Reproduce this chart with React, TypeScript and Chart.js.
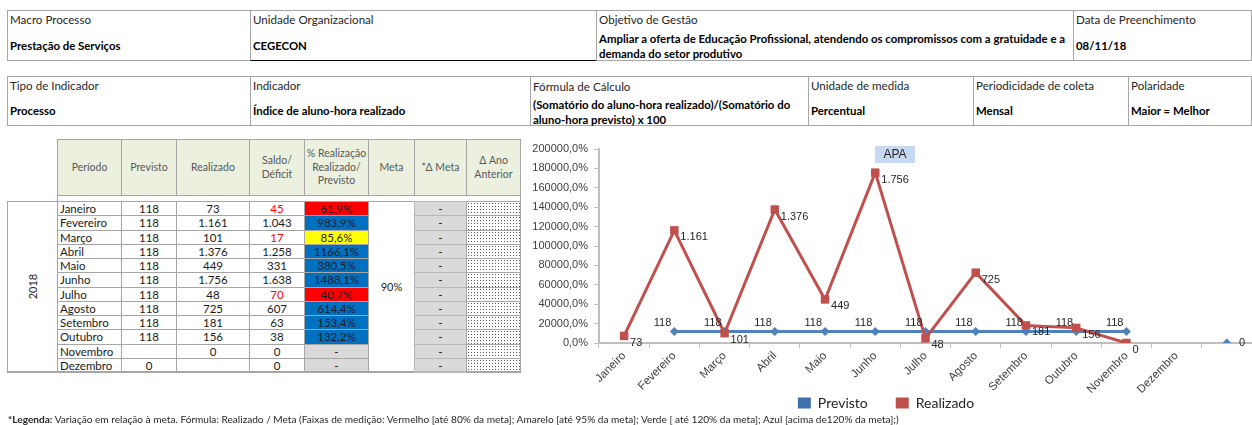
import React, { useEffect, useRef } from 'react';
import { Chart, registerables } from 'chart.js';

Chart.register(...registerables);

// ---------- DATA ----------
const mesesTabela = ['Janeiro', 'Fevereiro', 'Março', 'Abril', 'Maio', 'Junho', 'Julho', 'Agosto', 'Setembro', 'Outubro', 'Novembro', 'Dezembro'];
const previstoTabela = ['118', '118', '118', '118', '118', '118', '118', '118', '118', '118', '', '0'];
const realizadoTabela = ['73', '1.161', '101', '1.376', '449', '1.756', '48', '725', '181', '156', '0', ''];
const saldoTabela = ['45', '1.043', '17', '1.258', '331', '1.638', '70', '607', '63', '38', '0', '0'];
const saldoDeficit = [true, false, true, false, false, false, true, false, false, false, false, false];
const realizacaoTabela = ['61,9%', '983,9%', '85,6%', '1166,1%', '380,5%', '1488,1%', '40,7%', '614,4%', '153,4%', '132,2%', '-', '-'];
const faixaTabela = ['vermelho', 'azul', 'amarelo', 'azul', 'azul', 'azul', 'vermelho', 'azul', 'azul', 'azul', 'sem', 'sem'];
const metaTexto = '90%';
const anoTexto = '2018';

const categoriasGrafico = ['Janeiro', 'Fevereiro', 'Março', 'Abril', 'Maio', 'Junho', 'Julho', 'Agosto', 'Setembro', 'Outubro', 'Novembro', 'Dezembro', ''];
const previstoGrafico = [null, 118, 118, 118, 118, 118, 118, 118, 118, 118, 118, null, 0];
const realizadoGrafico = [73, 1161, 101, 1376, 449, 1756, 48, 725, 181, 156, 0, null, null];
const eixoYMax = 2000;
const eixoYPasso = 200;
const tituloGrafico = 'APA';

// ---------- STYLE ----------
const FONT_T = 'Lato, "Liberation Sans", Arial, sans-serif';
const FONT_C = '"Liberation Sans", Arial, sans-serif';
const BORDA = '#a6a6a6';
const CORES_FAIXA: Record<string, string> = {
  vermelho: '#ff0000',
  azul: '#0070c0',
  amarelo: '#ffff00',
  sem: '#d9d9d9',
};

const fmtMil = (v: number) => String(v).replace(/\B(?=(\d{3})+(?!\d))/g, '.');
const fmtPct = (v: number) => (v * 100).toFixed(1).replace('.', ',') + '%';

function Abs(props: { x: number; y: number; w: number; h: number; style?: React.CSSProperties; children?: React.ReactNode }) {
  const { x, y, w, h, style, children } = props;
  return (
    <div style={{ position: 'absolute', left: x, top: y, width: w, height: h, boxSizing: 'border-box', ...style }}>
      {children}
    </div>
  );
}

function InfoCell(props: {
  x1: number; x2: number; y1: number; y2: number; label: string; value: string[];
  labelTop: number; valueTop: number; extra?: React.CSSProperties;
}) {
  const { x1, x2, y1, y2, label, value, labelTop, valueTop, extra } = props;
  return (
    <Abs x={x1} y={y1} w={x2 - x1 + 1} h={y2 - y1 + 1} style={{ border: `1px solid ${BORDA}`, ...extra }}>
      <div style={{ position: 'absolute', left: 2, top: labelTop, fontSize: 11.6, lineHeight: '14px', color: '#262626', whiteSpace: 'nowrap' }}>{label}</div>
      <div style={{ position: 'absolute', left: 2, top: valueTop, fontSize: 11.4, fontWeight: 'bold', lineHeight: '15px', color: '#000', whiteSpace: 'nowrap' }}>
        {value.map((l, i) => <div key={i}>{l}</div>)}
      </div>
    </Abs>
  );
}

const rotulos = {
  id: 'rotulos',
  afterDatasetsDraw(chart: any) {
    const ctx = chart.ctx;
    ctx.save();
    ctx.font = `11px ${FONT_C}`;
    ctx.fillStyle = '#262626';
    ctx.textBaseline = 'middle';
    chart.data.datasets.forEach((ds: any, di: number) => {
      const meta = chart.getDatasetMeta(di);
      meta.data.forEach((pt: any, i: number) => {
        const v = ds.data[i];
        if (v === null || v === undefined) return;
        const txt = fmtMil(v);
        if (ds.label === 'Realizado') {
          ctx.textAlign = 'left';
          ctx.fillText(txt, pt.x + 6, pt.y + 7);
        } else if (v === 0) {
          ctx.textAlign = 'left';
          ctx.fillText(txt, pt.x + 12, pt.y);
        } else {
          ctx.textAlign = 'right';
          ctx.fillText(txt, pt.x - 3, pt.y - 9);
        }
      });
    });
    ctx.restore();
  },
};

const CANVAS_TOP = 136;

const tituloApa = {
  id: 'tituloApa',
  afterDraw(chart: any) {
    const ctx = chart.ctx;
    ctx.save();
    const cx = chart.width / 2 + 9;
    const top = 146 - CANVAS_TOP;
    ctx.fillStyle = '#c6d9f1';
    ctx.fillRect(cx - 20, top, 40, 17);
    ctx.fillStyle = '#1f1f1f';
    ctx.font = `12px ${FONT_C}`;
    ctx.textAlign = 'center';
    ctx.textBaseline = 'middle';
    ctx.fillText(tituloGrafico, cx, top + 9);
    ctx.restore();
  },
};

function Grafico() {
  const ref = useRef<HTMLCanvasElement | null>(null);
  useEffect(() => {
    if (!ref.current) return;
    const chart = new Chart(ref.current, {
      type: 'line',
      data: {
        labels: categoriasGrafico,
        datasets: [
          {
            label: 'Previsto',
            data: previstoGrafico,
            borderColor: '#4f81bd',
            backgroundColor: '#3e6fae',
            borderWidth: 3,
            pointStyle: 'rectRot',
            pointRadius: 4.5,
            pointBackgroundColor: '#4f81bd',
            pointBorderColor: '#4f81bd',
            pointBorderWidth: 0,
            tension: 0,
            spanGaps: false,
            order: 2,
          } as any,
          {
            label: 'Realizado',
            data: realizadoGrafico,
            borderColor: '#c0504d',
            backgroundColor: '#c0504d',
            borderWidth: 3,
            pointStyle: 'rect',
            pointRadius: 6,
            pointBackgroundColor: '#c0504d',
            pointBorderColor: '#c0504d',
            pointBorderWidth: 0,
            tension: 0,
            spanGaps: false,
            order: 1,
          } as any,
        ],
      },
      options: {
        responsive: false,
        animation: false,
        devicePixelRatio: 1,
        layout: { autoPadding: false, padding: { top: 13, left: 0, right: 0, bottom: 0 } },
        plugins: {
          legend: {
            position: 'bottom',
            labels: {
              boxWidth: 13,
              boxHeight: 11,
              padding: 0,
              color: '#262626',
              font: { family: FONT_T, size: 14 },
              sort: (a: any, b: any) => a.datasetIndex - b.datasetIndex,
              generateLabels: (c: any) =>
                (Chart.defaults.plugins.legend.labels.generateLabels as any)(c).map((l: any) => ({
                  ...l,
                  lineWidth: 0,
                  text: l.datasetIndex === 0 ? l.text + '\u2002\u2002\u2002\u2002' : l.text,
                })),
            },
          },
          tooltip: { enabled: false },
        },
        scales: {
          x: {
            offset: true,
            grid: { display: true, drawOnChartArea: false, drawTicks: true, tickLength: 5, color: '#bfbfbf', offset: true },
            border: { display: true, color: '#bfbfbf', width: 2 },
            ticks: { minRotation: 45, maxRotation: 45, autoSkip: false, color: '#404040', font: { family: FONT_C, size: 11.5 }, padding: 1 },
            afterFit: (s: any) => { s.height = 53; s.paddingLeft = 0; s.paddingRight = 0; },
          },
          y: {
            min: 0,
            max: eixoYMax,
            ticks: { stepSize: eixoYPasso, callback: (v: any) => fmtPct(Number(v)), color: '#404040', font: { family: FONT_C, size: 11 }, padding: 6 },
            grid: { display: true, drawOnChartArea: false, drawTicks: true, tickLength: 5, color: '#bfbfbf' },
            border: { display: true, color: '#bfbfbf', width: 2 },
            afterFit: (s: any) => { s.width = 79; },
          },
        },
      } as any,
      plugins: [rotulos, tituloApa],
    });
    return () => chart.destroy();
  }, []);
  return (
    <canvas ref={ref} width={732} height={284} style={{ position: 'absolute', left: 520, top: CANVAS_TOP, width: 732, height: 284 }} />
  );
}

const colsTabela = [57, 121, 176, 249, 304, 368, 414, 466, 520];
const cabecalhos = [['Período'], ['Previsto'], ['Realizado'], ['Saldo/', 'Déficit'], ['% Realização', 'Realizado/', 'Previsto'], ['Meta'], ['*Δ Meta'], ['Δ Ano', 'Anterior']];
const ROW0 = 201;
const ROWH = 14.25;

function TabelaDados() {
  const cells: React.ReactNode[] = [];
  cabecalhos.forEach((linhas, c) => {
    const x1 = colsTabela[c];
    const x2 = colsTabela[c + 1];
    cells.push(
      <Abs key={'h' + c} x={x1} y={139} w={x2 - x1 + 1} h={57}
        style={{ background: '#ebf1de', border: `1px solid ${BORDA}`, display: 'flex', flexDirection: 'column', alignItems: 'center', justifyContent: 'center', fontSize: 10.5, lineHeight: '13.5px', color: '#595959', textAlign: 'center' }}>
        {linhas.map((l, i) => <div key={i} style={{ whiteSpace: 'nowrap' }}>{l}</div>)}
      </Abs>
    );
  });
  cells.push(<Abs key="gap" x={57} y={195} w={464} h={7} style={{ borderLeft: `1px solid ${BORDA}`, borderRight: `1px solid ${BORDA}` }} />);
  cells.push(
    <Abs key="ano" x={7} y={ROW0} w={51} h={372 - ROW0 + 1}
      style={{ border: `1px solid ${BORDA}`, borderBottomWidth: 2, display: 'flex', alignItems: 'center', justifyContent: 'center' }}>
      <div style={{ transform: 'rotate(-90deg)', fontSize: 11, color: '#262626' }}>{anoTexto}</div>
    </Abs>
  );
  cells.push(
    <Abs key="meta" x={368} y={ROW0} w={47} h={372 - ROW0 + 1}
      style={{ border: `1px solid ${BORDA}`, borderBottomWidth: 2, display: 'flex', alignItems: 'center', justifyContent: 'center', fontSize: 11, color: '#262626' }}>
      {metaTexto}
    </Abs>
  );
  mesesTabela.forEach((mes, r) => {
    const y1 = Math.round(ROW0 + r * ROWH);
    const y2 = Math.round(ROW0 + (r + 1) * ROWH);
    const h = y2 - y1 + 1;
    const last = r === mesesTabela.length - 1;
    const base: React.CSSProperties = {
      border: `1px solid ${BORDA}`,
      borderBottomWidth: last ? 2 : 1,
      fontSize: 11.5,
      lineHeight: `${h - 2}px`,
      color: '#1a1a1a',
      textAlign: 'center',
      whiteSpace: 'nowrap',
    };
    const vals: [string, React.CSSProperties][] = [
      [mes, { textAlign: 'left', paddingLeft: 2 }],
      [previstoTabela[r], {}],
      [realizadoTabela[r], {}],
      [saldoTabela[r], { color: saldoDeficit[r] ? '#ff0000' : '#1a1a1a' }],
      [realizacaoTabela[r], { background: CORES_FAIXA[faixaTabela[r]], color: '#1a1a2a' }],
    ];
    vals.forEach(([t, st], c) => {
      const x1 = colsTabela[c];
      const x2 = colsTabela[c + 1];
      cells.push(<Abs key={`r${r}c${c}`} x={x1} y={y1} w={x2 - x1 + 1} h={h} style={{ ...base, ...st }}>{t}</Abs>);
    });
    cells.push(
      <Abs key={`r${r}dm`} x={414} y={y1} w={53} h={h} style={{ ...base, background: '#d9d9d9', borderColor: '#b8b8b8' }}>-</Abs>
    );
    cells.push(
      <Abs key={`r${r}da`} x={466} y={y1} w={55} h={h}
        style={{ ...base, backgroundColor: '#fff', backgroundImage: 'radial-gradient(circle, #555 0.7px, transparent 0.9px)', backgroundSize: '3px 3px' }} />
    );
  });
  return <>{cells}</>;
}

export default function App() {
  return (
    <div style={{ position: 'absolute', left: 0, top: 0, width: 1252, height: 425, overflow: 'hidden', background: '#fff', fontFamily: FONT_T }}>
      <InfoCell x1={7} x2={250} y1={10} y2={60} label="Macro Processo" value={['Prestação de Serviços']} labelTop={2} valueTop={27} />
      <InfoCell x1={250} x2={596} y1={10} y2={60} label="Unidade Organizacional" value={['CEGECON']} labelTop={2} valueTop={27} extra={{ borderBottom: '1px solid #000' }} />
      <InfoCell x1={596} x2={1073} y1={10} y2={60} label="Objetivo de Gestão"
        value={['Ampliar a oferta de Educação Profissional, atendendo os compromissos com a gratuidade e a', 'demanda do setor produtivo']} labelTop={2} valueTop={19.5} />
      <InfoCell x1={1073} x2={1251} y1={10} y2={60} label="Data de Preenchimento" value={['08/11/18']} labelTop={2} valueTop={27} />
      <InfoCell x1={7} x2={250} y1={76} y2={125} label="Tipo de Indicador" value={['Processo']} labelTop={2} valueTop={26} />
      <InfoCell x1={250} x2={530} y1={76} y2={125} label="Indicador" value={['Índice de aluno-hora realizado']} labelTop={2} valueTop={26} />
      <InfoCell x1={530} x2={808} y1={76} y2={125} label="Fórmula  de Cálculo"
        value={['(Somatório do aluno-hora realizado)/(Somatório do', 'aluno-hora previsto) x 100']} labelTop={3} valueTop={19.5} />
      <InfoCell x1={808} x2={973} y1={76} y2={125} label="Unidade de medida" value={['Percentual']} labelTop={2} valueTop={26} />
      <InfoCell x1={973} x2={1128} y1={76} y2={125} label="Periodicidade de coleta" value={['Mensal']} labelTop={2} valueTop={26} />
      <InfoCell x1={1128} x2={1251} y1={76} y2={125} label="Polaridade" value={['Maior = Melhor']} labelTop={2} valueTop={26} />
      <TabelaDados />
      <Grafico />
      <div style={{ position: 'absolute', left: 8, top: 413, fontSize: 10.1, lineHeight: '12px', color: '#262626', whiteSpace: 'nowrap' }}>
        <b>*Legenda:</b> Variação em relação à meta. Fórmula: Realizado / Meta (Faixas de medição: Vermelho [até 80% da meta]; Amarelo [até 95% da meta]; Verde [ até 120% da meta]; Azul [acima de120% da meta];)
      </div>
    </div>
  );
}
